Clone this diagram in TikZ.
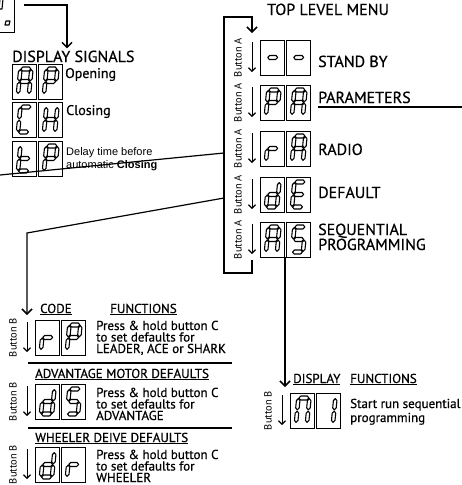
\documentclass[tikz,border=0pt]{standalone}
\usepackage{fontspec}
\setmainfont{PT Sans}[BoldFont={PT Sans}, BoldFeatures={FakeBold=0.6}]
\newfontfamily\arialfont{Liberation Sans}
\usetikzlibrary{arrows.meta,positioning}

\tikzset{
	dbox/.style={draw, line width=0.9pt, minimum width=24pt, minimum height=35pt, inner sep=0pt, outer sep=0pt},
	seg/.style={draw, line width=1.1pt, fill=white, line join=round},
	link/.style={line width=1.2pt},
	bigarrow/.style={link, -{Straight Barb[length=5pt,width=10pt,line width=1.5pt]}},
	smallarrow/.style={line width=0.9pt, -{Straight Barb[length=3.5pt,width=7pt,line width=1.1pt]}},
	btnlabel/.style={rotate=90, font=\fontsize{10.5}{11}\selectfont, inner sep=0pt},
	txt/.style={inner sep=0pt, anchor=base west, align=left},
	big/.style={txt, font=\fontsize{16}{15}\selectfont\bfseries},
	mid/.style={txt, font=\fontsize{14}{14}\selectfont\bfseries},
	small/.style={txt, font=\fontsize{13}{11.5}\selectfont\bfseries},
}

% seven segment digits
\newcommand{\hseg}[1]{\draw[seg] (0.05,#1) -- (0.21,{#1+0.16}) -- (0.79,{#1+0.16}) -- (0.95,#1) -- (0.79,{#1-0.16}) -- (0.21,{#1-0.16}) -- cycle;}
\newcommand{\vseg}[2]{\draw[seg] (#1,{#2+0.05}) -- ({#1+0.16},{#2+0.21}) -- ({#1+0.16},{#2+0.79}) -- (#1,{#2+0.95}) -- ({#1-0.16},{#2+0.79}) -- ({#1-0.16},{#2+0.21}) -- cycle;}
\newcommand{\sega}{\hseg{2}}
\newcommand{\segb}{\vseg{1}{1}}
\newcommand{\segc}{\vseg{1}{0}}
\newcommand{\segd}{\hseg{0}}
\newcommand{\sege}{\vseg{0}{0}}
\newcommand{\segf}{\vseg{0}{1}}
\newcommand{\segg}{\hseg{1}}
\newcommand{\dispdigit}[2]{%
	\begin{scope}[shift={(#1.south west)}, shift={(6pt,5pt)}, x={(11pt,0pt)}, y={(1.2pt,12.5pt)}]
		\foreach \s in {#2} {\csname seg\s\endcsname}
	\end{scope}}
\newcommand{\display}[4]{%
	\node[dbox, anchor=north west] (#1a) at (#2) {};
	\node[dbox, right=2pt of #1a] (#1b) {};
	\dispdigit{#1a}{#3}\dispdigit{#1b}{#4}}
\newcommand{\btnrow}[2]{%
	\draw[smallarrow] ([xshift=-8pt,yshift=-2pt]#1.north west) -- ([xshift=-8pt,yshift=3pt]#1.south west);
	\node[btnlabel] at ([xshift=-22pt]#1.west) {#2};}

\begin{document}
\begin{tikzpicture}[x=1pt, y=-1pt]
	\useasboundingbox (0,0) rectangle (462,485);
	\clip (0,0) rectangle (462,485);

	% display signals
	\node[dbox, anchor=north west, minimum width=26pt, minimum height=37pt] (oldbox) at (-12,-5) {};
	\draw[seg] (5,25) -- (9,25) -- (10,21) -- (6,21) -- cycle;
	\draw[seg] (0,-1) -- (3,-1) -- (2,9) -- (-1,9) -- cycle;
	\node[big] (sig) at (12,62) {DISPLAY SIGNALS};
	\coordinate (sigin) at (24,5);
	\coordinate (sigturn) at (67,5);
	\draw[bigarrow, shorten >=2pt] (sigin) -- (sigturn) -- (sigturn |- sig.north);
	\display{AP}{12,64}{a,b,c,e,f,g}{a,b,e,f,g}
	\display{CH}{12,102}{a,d,e,f}{b,c,e,f,g}
	\display{tP}{12,141}{d,e,f,g}{a,b,e,f,g}
	\node[mid] (opn) at (65,78) {Opening};
	\node[mid] (cls) at (66,115) {Closing};
	\node[txt, font=\arialfont\fontsize{11}{13}\selectfont] (dly) at (66,168) {Delay time before\\automatic \textbf{Closing}};

	% top level menu
	\node[big] (top) at (267,15) {TOP LEVEL MENU};
	\display{SB}{260,40}{g}{g}
	\display{PA}{260,85}{a,b,e,f,g}{a,b,c,e,f,g}
	\display{rA}{260,131}{e,g}{a,b,c,e,f,g}
	\display{dE}{260,177}{b,c,d,e,g}{a,d,e,f,g}
	\display{AS}{260,222}{a,b,c,e,f,g}{a,c,d,f,g}
	\foreach \b in {SBa,PAa,rAa,dEa,ASa} {\btnrow{\b}{Button A}}
	\node[big] (sb) at (318,67) {STAND BY};
	\node[big] (par) at (318,103) {PARAMETERS};
	\node[big] (rad) at (318,155) {RADIO};
	\node[big] (def) at (318,198) {DEFAULT};
	\node[big] (seq) at (318,250) {SEQUENTIAL\\PROGRAMMING};
	\coordinate (parEnd) at (462,107);
	\draw[link] (parEnd -| par.west) -- (parEnd);
	\coordinate (loopA) at (252,260);
	\coordinate (loopB) at (252,273);
	\coordinate (loopC) at (224,273);
	\coordinate (loopD) at (224,17);
	\coordinate (loopE) at (252,17);
	\draw[bigarrow, shorten >=7pt] (loopA) -- (loopB) -- (loopC) -- (loopD) -- (loopE) -- (loopE |- SBa.north);

	% default menu
	\node[small] (code) at (40,313) {\underline{CODE}};
	\node[small] (fncA) at (110,313) {\underline{FUNCTIONS}};
	\display{rP}{35,320}{e,g}{a,b,e,f,g}
	\display{dS}{35,384}{b,c,d,e,g}{a,c,d,f,g}
	\display{dr}{35,447}{b,c,d,e,g}{e,g}
	\foreach \b in {rPa,dSa,dra} {\btnrow{\b}{Button B}}
	\node[small] (rPtxt) at (96,353) {Press \& hold button C\\to set defaults for\\LEADER, ACE or SHARK};
	\draw[link] (28,363) -- (232,363);
	\node[small] (adv) at (35,378) {\underline{ADVANTAGE MOTOR DEFAULTS}};
	\node[small] (dStxt) at (96,420) {Press \& hold button C\\to set defaults for\\ADVANTAGE};
	\draw[link] (28,428) -- (232,428);
	\node[small] (whl) at (35,442) {\underline{WHEELER DEIVE DEFAULTS}};
	\node[small] (drtxt) at (96,482) {Press \& hold button C\\to set defaults for\\WHEELER};
	\coordinate (frPar) at (224,153);
	\coordinate (frDef) at (224,198);
	\coordinate (offL) at (0,175);
	\coordinate (defBend) at (27,233);
	\draw[link] (frPar) -- (offL);
	\draw[bigarrow, shorten >=5pt] (frDef) -- (defBend) -- (defBend |- rPa.north);

	% sequential programming
	\display{NI}{290,393}{a,b,c,e,f}{b,c}
	\btnrow{NIa}{Button B}
	\draw[bigarrow, shorten >=6pt] ([xshift=-1pt]ASb.south west) -- ([xshift=-1pt]ASb.south west |- NIa.north);
	\node[small] (disp) at (293,383) {\underline{DISPLAY}};
	\node[small] (fncB) at (350,383) {\underline{FUNCTIONS}};
	\node[small, font=\fontsize{13}{14}\selectfont\bfseries] (NItxt) at (350,422) {Start run sequential\\programming};
\end{tikzpicture}
\end{document}
